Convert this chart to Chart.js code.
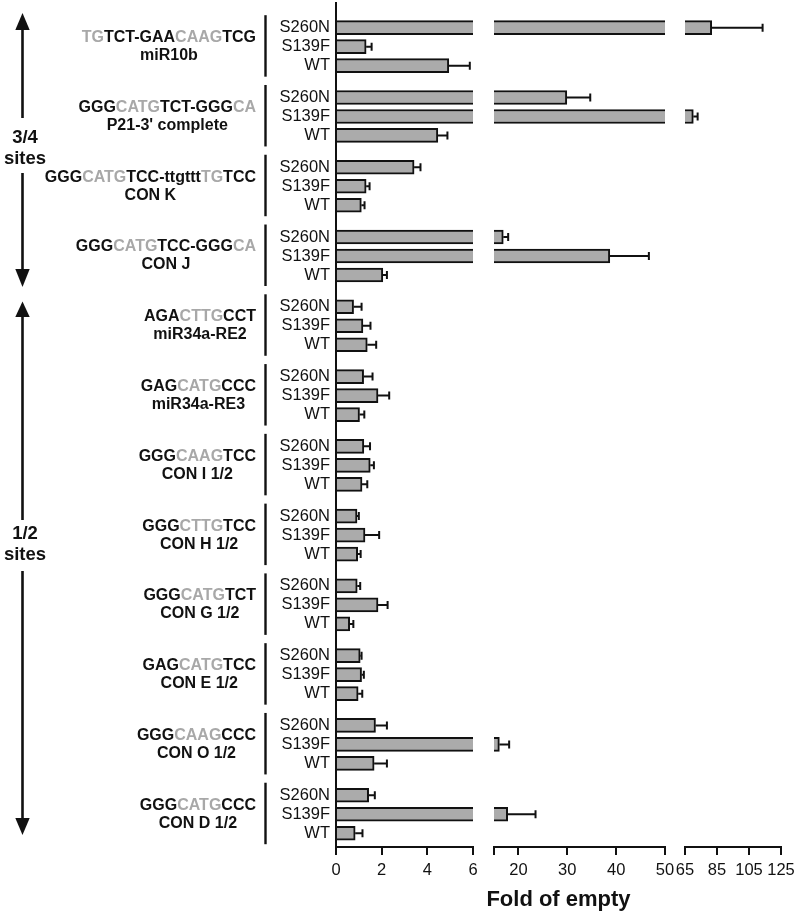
<!DOCTYPE html>
<html>
<head>
<meta charset="utf-8">
<script src="https://cdn.jsdelivr.net/npm/chart.js@4/dist/chart.umd.min.js"></script>
<style>
html, body { margin:0; padding:0; background:#ffffff; }
canvas { display:block; }
</style>
</head>
<body>
<canvas id="chart" width="800" height="915"></canvas>
<script>
// ---------------- data ----------------
const groupNames = ["miR10b", "P21-3' complete", "CON K", "CON J", "miR34a-RE2", "miR34a-RE3",
  "CON I 1/2", "CON H 1/2", "CON G 1/2", "CON E 1/2", "CON O 1/2", "CON D 1/2"];
// text inside [ ] is printed in grey
const groupSequences = ["[TG]TCT-GAA[CAAG]TCG", "GGG[CATG]TCT-GGG[CA]", "GGG[CATG]TCC-ttgttt[TG]TCC",
  "GGG[CATG]TCC-GGG[CA]", "AGA[CTTG]CCT", "GAG[CATG]CCC", "GGG[CAAG]TCC", "GGG[CTTG]TCC",
  "GGG[CATG]TCT", "GAG[CATG]TCC", "GGG[CAAG]CCC", "GGG[CATG]CCC"];
const seriesNames = ["S260N", "S139F", "WT"];

const s260n    = [81.7, 29.9, 3.42, 16.9, 0.77, 1.21, 1.22, 0.92, 0.93, 1.06, 1.73, 1.43];
const s260nErr = [31.8, 4.8,  0.28, 1.0,  0.35, 0.39, 0.27, 0.08, 0.13, 0.06, 0.50, 0.27];
const s139f    = [1.32, 70.2, 1.32, 38.7, 1.18, 1.84, 1.50, 1.27, 1.84, 1.12, 16.1, 17.8];
const s139fErr = [0.24, 2.7,  0.15, 8.0,  0.33, 0.49, 0.16, 0.62, 0.42, 0.10, 2.0,  5.7];
const wt       = [4.94, 4.46, 1.11, 2.05, 1.37, 1.03, 1.14, 0.95, 0.60, 0.97, 1.67, 0.84];
const wtErr    = [0.92, 0.42, 0.14, 0.18, 0.39, 0.21, 0.23, 0.13, 0.16, 0.18, 0.56, 0.32];

const seg1Ticks = [0, 2, 4, 6];
const seg1TickLabels = ["0", "2", "4", "6"];
const seg2Ticks = [15, 20, 30, 40, 50];
const seg2TickLabels = ["", "20", "30", "40", "50"];
const seg3Ticks = [65, 85, 105, 125];
const seg3TickLabels = ["65", "85", "105", "125"];

const siteClassLabels = [["3/4", "sites"], ["1/2", "sites"]];
const axisTitle = "Fold of empty";

// ---------------- layout / style ----------------
const FONT = "'Liberation Sans', Arial, Helvetica, sans-serif";
const INK = "#111111";
const GREY_TEXT = "#a8a8a8";
const BAR_FILL = "#ababab";
const GROUP_STEP = 3.674;          // distance between groups, in bar slots
const SEG_PX = [[0, 137], [158, 329], [349, 445]]; // segment spans from chart-area left
const X_AXIS_H = 68;

const seriesValues = [s260n, s139f, wt];
const seriesErrors = [s260nErr, s139fErr, wtErr];
const pos = (g, s) => g * GROUP_STEP + s;

const segDefs = [
  { id: "x1", ticks: seg1Ticks, labels: seg1TickLabels },
  { id: "x2", ticks: seg2Ticks, labels: seg2TickLabels },
  { id: "x3", ticks: seg3Ticks, labels: seg3TickLabels }
];
const segMin = sd => sd.ticks[0];
const segMax = sd => sd.ticks[sd.ticks.length - 1];

const yTickValues = [];
const yTickLabels = [];
groupNames.forEach((g, gi) => seriesNames.forEach((s, si) => {
  yTickValues.push(pos(gi, si));
  yTickLabels.push(s);
}));

function segData(sd) {
  const pts = [];
  groupNames.forEach((g, gi) => seriesValues.forEach((vals, si) => {
    if (vals[gi] > segMin(sd)) pts.push({ x: vals[gi], y: pos(gi, si) });
  }));
  return pts;
}

const datasets = segDefs.map((sd, i) => ({
  label: sd.id,
  data: segData(sd),
  xAxisID: sd.id,
  yAxisID: "y",
  grouped: false,
  clip: false,
  barThickness: 14,
  backgroundColor: BAR_FILL,
  borderColor: INK,
  borderSkipped: false,
  borderWidth: ctx => {
    const v = ctx.raw ? ctx.raw.x : 0;
    const open = v > segMax(sd);
    return { top: 2, bottom: 2, left: i === 0 ? 0 : 2, right: open ? 0 : 2 };
  }
}));

function xScale(sd, i) {
  return {
    type: "linear",
    position: "bottom",
    min: segMin(sd),
    max: segMax(sd),
    beginAtZero: false,
    stacked: false,
    afterBuildTicks: sc => { sc.ticks = sd.ticks.map(v => ({ value: v })); },
    afterFit: sc => { sc.height = i === 0 ? X_AXIS_H : 0; sc.paddingLeft = 0; sc.paddingRight = 0; },
    grid: { display: true, drawOnChartArea: false, drawTicks: true, tickLength: 8, color: INK, lineWidth: 2 },
    border: { display: true, color: INK, width: 2 },
    ticks: {
      autoSkip: false, maxRotation: 0, minRotation: 0, padding: 6, color: INK,
      font: { family: FONT, size: 16.5 },
      callback: (v, idx) => sd.labels[idx]
    }
  };
}

// ---------------- plugins ----------------
const segmentLayout = {
  id: "segmentLayout",
  afterLayout(chart) {
    const ca = chart.chartArea;
    segDefs.forEach((sd, i) => {
      const sc = chart.scales[sd.id];
      sc.left = ca.left + SEG_PX[i][0];
      sc.right = ca.left + SEG_PX[i][1];
      sc.width = sc.right - sc.left;
      sc.top = ca.bottom;
      sc.bottom = ca.bottom + X_AXIS_H;
      sc.height = X_AXIS_H;
      sc.configure();
    });
  },
  beforeDatasetDraw(chart, args) {
    const ds = chart.data.datasets[args.index];
    const sc = chart.scales[ds.xAxisID];
    const ca = chart.chartArea;
    const ctx = chart.ctx;
    ctx.save();
    ctx.beginPath();
    ctx.rect(sc.left, ca.top, sc.right - sc.left, ca.bottom - ca.top);
    ctx.clip();
  },
  afterDatasetDraw(chart) { chart.ctx.restore(); }
};

const errorBars = {
  id: "errorBars",
  afterDatasetsDraw(chart) {
    const ctx = chart.ctx;
    const y = chart.scales.y;
    ctx.save();
    ctx.strokeStyle = INK;
    ctx.lineWidth = 2;
    seriesValues.forEach((vals, s) => vals.forEach((v, g) => {
      const e = seriesErrors[s][g];
      const sd = segDefs.find(d => v >= segMin(d) && v <= segMax(d));
      if (!sd) return;
      const sc = chart.scales[sd.id];
      const x0 = sc.getPixelForValue(v);
      const x1 = sc.getPixelForValue(v + e);
      const py = y.getPixelForValue(pos(g, s));
      ctx.beginPath();
      ctx.moveTo(x0, py); ctx.lineTo(x1, py);
      ctx.moveTo(x1, py - 4); ctx.lineTo(x1, py + 4);
      ctx.stroke();
    }));
    ctx.restore();
  }
};

function drawMarkup(ctx, markup, xRight, y) {
  const parts = [];
  const re = /\[([^\]]*)\]|([^\[]+)/g;
  let m;
  while ((m = re.exec(markup)) !== null) {
    if (m[1] !== undefined) parts.push({ t: m[1], c: GREY_TEXT });
    else parts.push({ t: m[2], c: INK });
  }
  const total = parts.reduce((a, p) => a + ctx.measureText(p.t).width, 0);
  let x = xRight - total;
  ctx.textAlign = "left";
  parts.forEach(p => {
    ctx.fillStyle = p.c;
    ctx.fillText(p.t, x, y);
    x += ctx.measureText(p.t).width;
  });
  return total;
}

function arrowHead(ctx, x, tipY, baseY, half) {
  ctx.beginPath();
  ctx.moveTo(x, tipY);
  ctx.lineTo(x - half, baseY);
  ctx.lineTo(x + half, baseY);
  ctx.closePath();
  ctx.fill();
}

const annotations = {
  id: "annotations",
  afterDraw(chart) {
    const ctx = chart.ctx;
    const y = chart.scales.y;
    const ca = chart.chartArea;
    ctx.save();
    // group labels and separators
    ctx.font = "bold 16px " + FONT;
    ctx.textBaseline = "middle";
    groupNames.forEach((name, gi) => {
      const mid = y.getPixelForValue(pos(gi, 1));
      const w = drawMarkup(ctx, groupSequences[gi], 256, mid - 9);
      ctx.fillStyle = INK;
      ctx.textAlign = "center";
      ctx.fillText(name, 256 - w / 2, mid + 9);
      const top = y.getPixelForValue(pos(gi, 0)) - 12.5;
      const bot = y.getPixelForValue(pos(gi, 2)) + 11;
      ctx.strokeStyle = INK;
      ctx.lineWidth = 2.4;
      ctx.beginPath();
      ctx.moveTo(265.5, top); ctx.lineTo(265.5, bot);
      ctx.stroke();
    });
    // site-class arrows
    const ax = 22.5;
    ctx.fillStyle = INK;
    ctx.strokeStyle = INK;
    ctx.lineWidth = 2.6;
    const arrows = [
      { tip1: 13, base1: 30, l1: 118, t1: 138, t2: 159, l2: 173, base2: 269, tip2: 287 },
      { tip1: 301.5, base1: 317, l1: 520, t1: 534, t2: 555, l2: 571, base2: 818, tip2: 835 }
    ];
    arrows.forEach((a, i) => {
      arrowHead(ctx, ax, a.tip1, a.base1, 7.2);
      arrowHead(ctx, ax, a.tip2, a.base2, 7.2);
      ctx.beginPath();
      ctx.moveTo(ax, a.base1); ctx.lineTo(ax, a.l1);
      ctx.moveTo(ax, a.l2); ctx.lineTo(ax, a.base2);
      ctx.stroke();
      ctx.font = "bold 18.5px " + FONT;
      ctx.textAlign = "center";
      ctx.textBaseline = "middle";
      ctx.fillText(siteClassLabels[i][0], 25, a.t1);
      ctx.fillText(siteClassLabels[i][1], 25, a.t2);
    });
    // axis title
    ctx.font = "bold 22px " + FONT;
    ctx.textAlign = "center";
    ctx.textBaseline = "alphabetic";
    ctx.fillText(axisTitle, (ca.left + ca.right) / 2, 906);
    ctx.restore();
  }
};

Chart.defaults.font.family = FONT;

new Chart(document.getElementById("chart"), {
  type: "bar",
  data: { datasets },
  plugins: [segmentLayout, errorBars, annotations],
  options: {
    responsive: false,
    animation: false,
    indexAxis: "y",
    layout: { padding: { top: 3, right: 19, left: 0, bottom: 0 } },
    plugins: { legend: { display: false }, tooltip: { enabled: false } },
    scales: {
      y: {
        type: "linear",
        position: "left",
        reverse: true,
        min: -1.3,
        max: 43.14,
        offset: false,
        afterBuildTicks: sc => { sc.ticks = yTickValues.map(v => ({ value: v })); },
        afterFit: sc => { sc.width = 336; sc.paddingTop = 0; sc.paddingBottom = 0; },
        grid: { display: false, drawTicks: false, offset: false },
        border: { display: true, color: INK, width: 2, z: 1 },
        ticks: {
          autoSkip: false, padding: 6, color: INK,
          font: { family: FONT, size: 16.5 },
          callback: (v, idx) => yTickLabels[idx]
        }
      },
      x1: xScale(segDefs[0], 0),
      x2: xScale(segDefs[1], 1),
      x3: xScale(segDefs[2], 2)
    }
  }
});
</script>
</body>
</html>
